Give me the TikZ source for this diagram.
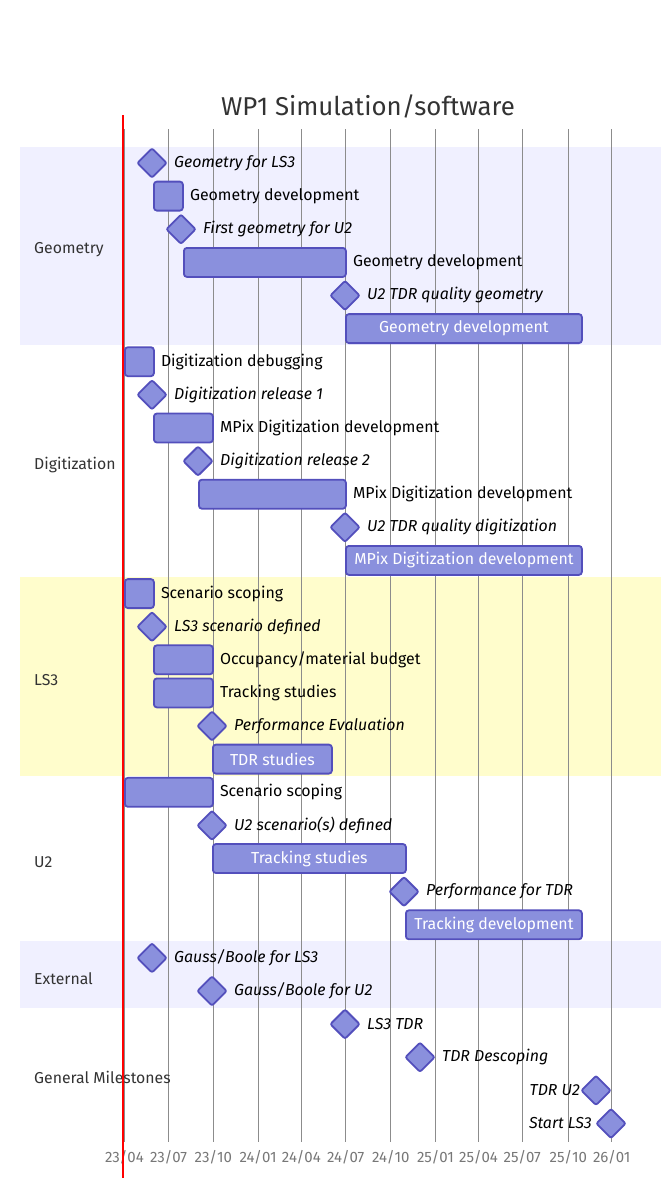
\documentclass[tikz,border=0pt]{standalone}
\usepackage{fontspec}
\setmainfont{Fira Sans}
\usetikzlibrary{shapes.geometric}
\definecolor{taskfill}{HTML}{8A90DD}
\definecolor{taskline}{HTML}{534FBC}
\definecolor{secA}{HTML}{F0F0FF}
\definecolor{secB}{HTML}{FFFDCC}
\definecolor{gridc}{HTML}{8C8C8C}
\definecolor{sectext}{HTML}{333333}
\definecolor{axistext}{HTML}{777777}
\tikzset{
  bar/.style={draw=taskline, fill=taskfill, line width=1.8pt, rounded corners=3pt, anchor=west, minimum height=29pt, inner sep=0pt},
  msnode/.style={diamond, draw=taskline, fill=taskfill, line width=1.8pt, minimum width=30pt, minimum height=30pt, inner sep=0pt, rounded corners=2pt},
  lblout/.style={anchor=west, font=\fontsize{15.9}{18}\selectfont, inner sep=0pt, text=black},
  lblin/.style={font=\fontsize{15.9}{18}\selectfont, inner sep=0pt, text=white},
  mslbl/.style={anchor=west, font=\fontsize{15.9}{18}\selectfont\itshape, inner sep=0pt, text=black},
  mslblL/.style={anchor=east, font=\fontsize{15.9}{18}\selectfont\itshape, inner sep=0pt, text=black},
  seclbl/.style={anchor=west, font=\fontsize{15.8}{18}\selectfont, inner sep=0pt, text=sectext},
  axlbl/.style={font=\fontsize{15}{17}\selectfont, inner sep=0pt, text=axistext},
  gridline/.style={draw=gridc, line width=0.9pt},
}
\begin{document}
\begin{tikzpicture}[x=1pt, y=-1pt]
\useasboundingbox (0,0) rectangle (661,1178);
% section backgrounds
\fill[secA] (20,146.5) rectangle (661,345);
\fill[secB] (20,577) rectangle (661,775.7);
\fill[secA] (20,941.3) rectangle (661,1007.6);
% grid lines and axis labels
\foreach \gx/\gl [count=\gi] in {124.4/23\slash 04, 168.6/23\slash 07, 213.3/23\slash 10, 258.0/24\slash 01, 301.4/24\slash 04, 345.7/24\slash 07, 390.8/24\slash 10, 435.5/25\slash 01, 478.5/25\slash 04, 522.3/25\slash 07, 568.3/25\slash 10, 611.7/26\slash 01} {
  \coordinate (gt\gi) at (\gx,129);
  \coordinate (gb\gi) at (\gx,1141.5);
  \draw[gridline] (gt\gi) -- (gb\gi);
  \node[axlbl] (ax\gi) at (\gx,1157) {\gl};
}
% title
\node[font=\fontsize{25.8}{29}\selectfont, text=sectext, inner sep=0pt] (title) at (368,106) {WP1 Simulation/software};
% section labels
\node[seclbl] (sGeo) at (34,249.5) {Geometry};
\node[seclbl] (sDig) at (34,465) {Digitization};
\node[seclbl] (sLS3) at (34,680.5) {LS3};
\node[seclbl] (sU2) at (34,862.5) {U2};
\node[seclbl] (sExt) at (34,978.5) {External};
\node[seclbl] (sGen) at (34,1077.5) {General Milestones};
% ---- Geometry
\node[msnode] (m1) at (152,163.0) {};
\node[mslbl] (l1) at (174,163.0) {Geometry for LS3};
\node[bar, minimum width=29pt] (b2) at (153,196.1) {};
\node[lblout] (l2) at ([xshift=6pt]b2.east) {Geometry development};
\node[msnode] (m3) at (181,229.2) {};
\node[mslbl] (l3) at (203,229.2) {First geometry for U2};
\node[bar, minimum width=162pt] (b4) at (183,262.4) {};
\node[lblout] (l4) at ([xshift=6pt]b4.east) {Geometry development};
\node[msnode] (m5) at (345,295.5) {};
\node[mslbl] (l5) at (367,295.5) {U2 TDR quality geometry};
\node[bar, minimum width=236pt] (b6) at (345,328.6) {};
\node[lblin] (l6) at (b6.center) {Geometry development};
% ---- Digitization
\node[bar, minimum width=29pt] (b7) at (124,361.7) {};
\node[lblout] (l7) at ([xshift=6pt]b7.east) {Digitization debugging};
\node[msnode] (m8) at (152,394.8) {};
\node[mslbl] (l8) at (174,394.8) {Digitization release 1};
\node[bar, minimum width=59pt] (b9) at (153,428.0) {};
\node[lblout] (l9) at ([xshift=6pt]b9.east) {MPix Digitization development};
\node[msnode] (m10) at (198,461.1) {};
\node[mslbl] (l10) at (220,461.1) {Digitization release 2};
\node[bar, minimum width=147pt] (b11) at (198,494.2) {};
\node[lblout] (l11) at ([xshift=6pt]b11.east) {MPix Digitization development};
\node[msnode] (m12) at (345,527.3) {};
\node[mslbl] (l12) at (367,527.3) {U2 TDR quality digitization};
\node[bar, minimum width=236pt] (b13) at (345,560.4) {};
\node[lblin] (l13) at (b13.center) {MPix Digitization development};
% ---- LS3
\node[bar, minimum width=29pt] (b14) at (124,593.6) {};
\node[lblout] (l14) at ([xshift=6pt]b14.east) {Scenario scoping};
\node[msnode] (m15) at (152,626.7) {};
\node[mslbl] (l15) at (174,626.7) {LS3 scenario defined};
\node[bar, minimum width=59pt] (b16) at (153,659.8) {};
\node[lblout] (l16) at ([xshift=6pt]b16.east) {Occupancy/material budget};
\node[bar, minimum width=59pt] (b17) at (153,692.9) {};
\node[lblout] (l17) at ([xshift=6pt]b17.east) {Tracking studies};
\node[msnode] (m18) at (212,726.0) {};
\node[mslbl] (l18) at (234,726.0) {Performance Evaluation};
\node[bar, minimum width=119pt] (b19) at (212,759.1) {};
\node[lblin] (l19) at (b19.center) {TDR studies};
% ---- U2
\node[bar, minimum width=88pt] (b20) at (124,792.3) {};
\node[lblout] (l20) at ([xshift=6pt]b20.east) {Scenario scoping};
\node[msnode] (m21) at (212,825.4) {};
\node[mslbl] (l21) at (234,825.4) {U2 scenario(s) defined};
\node[bar, minimum width=193pt] (b22) at (212,858.5) {};
\node[lblin] (l22) at (b22.center) {Tracking studies};
\node[msnode] (m23) at (404,891.6) {};
\node[mslbl] (l23) at (426,891.6) {Performance for TDR};
\node[bar, minimum width=176pt] (b24) at (405,924.8) {};
\node[lblin] (l24) at (b24.center) {Tracking development};
% ---- External
\node[msnode] (m25) at (152,957.9) {};
\node[mslbl] (l25) at (174,957.9) {Gauss/Boole for LS3};
\node[msnode] (m26) at (212,991.0) {};
\node[mslbl] (l26) at (234,991.0) {Gauss/Boole for U2};
% ---- General Milestones
\node[msnode] (m27) at (345,1024.1) {};
\node[mslbl] (l27) at (367,1024.1) {LS3 TDR};
\node[msnode] (m28) at (420,1057.2) {};
\node[mslbl] (l28) at (442,1057.2) {TDR Descoping};
\node[msnode] (m29) at (596,1090.4) {};
\node[mslblL] (l29) at (580,1090.4) {TDR U2};
\node[msnode] (m30) at (611,1123.5) {};
\node[mslblL] (l30) at (592,1123.5) {Start LS3};
% today line
\coordinate (todayTop) at (123,115);
\coordinate (todayBot) at (123,1178);
\draw[red, line width=2.4pt] (todayTop) -- (todayBot);
\end{tikzpicture}
\end{document}
